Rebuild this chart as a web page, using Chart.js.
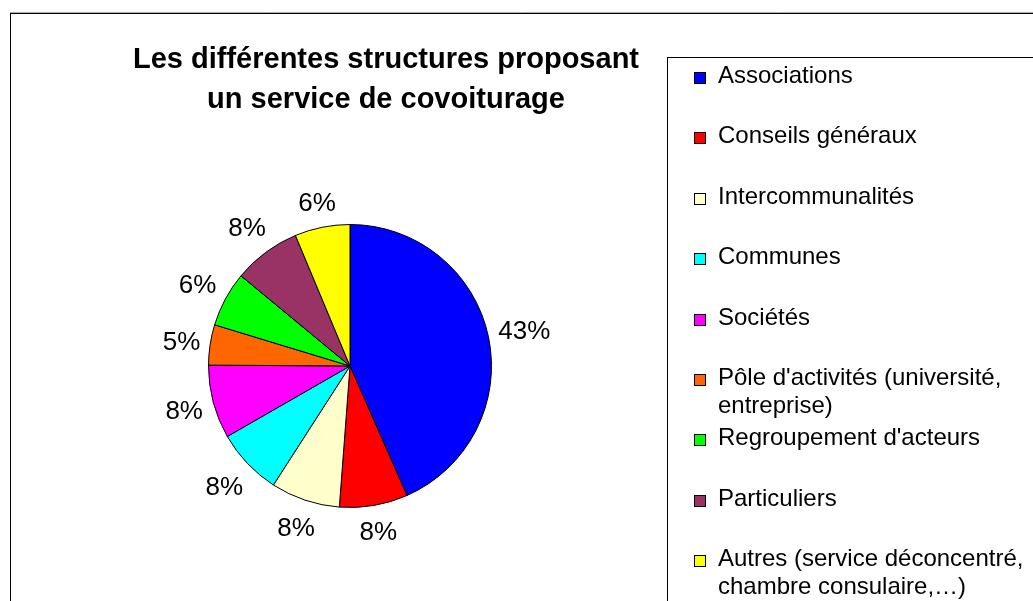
<!DOCTYPE html>
<html>
<head>
<meta charset="utf-8">
<script src="https://cdn.jsdelivr.net/npm/chart.js"></script>
<style>
  html,body{margin:0;padding:0;background:#fff}
  #wrap{position:relative;width:1033px;height:601px}
</style>
</head>
<body>
<div id="wrap"><canvas id="canvas" width="1033" height="601"></canvas></div>
<script>
// data (share of structures, %)
const categories = [
    ["Associations"],
    ["Conseils généraux"],
    ["Intercommunalités"],
    ["Communes"],
    ["Sociétés"],
    ["Pôle d'activités (université,", "entreprise)"],
    ["Regroupement d'acteurs"],
    ["Particuliers"],
    ["Autres (service déconcentré,", "chambre consulaire,…)"]
];
const shares = [43.4, 7.8, 7.9, 7.6, 8.4, 4.6, 6.3, 7.7, 6.3];
const colors = ['#0000FF','#FF0000','#FFFFCC','#00FFFF','#FF00FF','#FF6600','#00FF00','#993366','#FFFF00'];
const titleLines = ["Les différentes structures proposant", "un service de covoiturage"];

const FONT = '"Liberation Sans", Arial, sans-serif';

// frame, title and legend box
const decor = {
    id:'decor',
    beforeDraw(chart) {
        let ctx = chart.ctx;
        ctx.save();
        ctx.fillStyle = '#fff';
        ctx.fillRect(0,0,chart.width,chart.height);
        ctx.strokeStyle = '#aaa';
        ctx.beginPath();
        ctx.moveTo(10,12.5); ctx.lineTo(1033,12.5);
        ctx.stroke();
        ctx.strokeStyle = '#000';
        ctx.lineWidth = 1;
        ctx.strokeRect(10.5,13.5,1100,700);
        ctx.strokeRect(667.5,57.5,500,700);
        ctx.restore();
    },
    afterDraw(chart) {
        let ctx = chart.ctx;
        ctx.save();
        ctx.fillStyle = '#000';
        ctx.textAlign = 'center';
        ctx.textBaseline = 'alphabetic';
        ctx.font = 'bold 29px ' + FONT;
        titleLines.forEach((t,i)=>ctx.fillText(t,386,68+i*40));

        // legend
        ctx.textAlign = 'left';
        ctx.font = '24px ' + FONT;
        categories.forEach((lines,i)=>{
            let y = Math.round(72 + i*60.4);
            ctx.fillStyle = colors[i];
            ctx.fillRect(694.5,y+0.5,11,11);
            ctx.strokeStyle = '#000';
            ctx.lineWidth = 1;
            ctx.strokeRect(694.5,y+0.5,11,11);
            ctx.fillStyle = '#000';
            lines.forEach((l,j)=>ctx.fillText(l,718,y+11+j*28));
        });

        // percentage labels outside the slices
        let arcs = chart.getDatasetMeta(0).data;
        let total = shares.reduce((a,b)=>a+b,0);
        ctx.font = '26px ' + FONT;
        ctx.textAlign = 'center';
        ctx.textBaseline = 'middle';
        arcs.forEach((arc,i)=>{
            let mid = (arc.startAngle+arc.endAngle)/2;
            let txt = Math.round(shares[i]/total*100)+'%';
            let w = ctx.measureText(txt).width, h = 30;
            let c = Math.cos(mid), s = Math.sin(mid);
            let d = arc.outerRadius + 8 + Math.abs(c)*w/2 + Math.abs(s)*h/2;
            ctx.fillText(txt, arc.x + c*d, arc.y + s*d + 2);
        });
        ctx.restore();
    }
};

new Chart(document.getElementById('canvas'), {
    type:'pie',
    data:{
        labels:categories.map(c=>c.join(' ')),
        datasets:[{
            data:shares,
            backgroundColor:colors,
            borderColor:'#000',
            borderWidth:1
        }]
    },
    options:{
        responsive:false,
        animation:false,
        layout:{padding:{left:208,right:541,top:224,bottom:93}},
        plugins:{legend:{display:false},tooltip:{enabled:false},title:{display:false}}
    },
    plugins:[decor]
});
</script>
</body>
</html>
